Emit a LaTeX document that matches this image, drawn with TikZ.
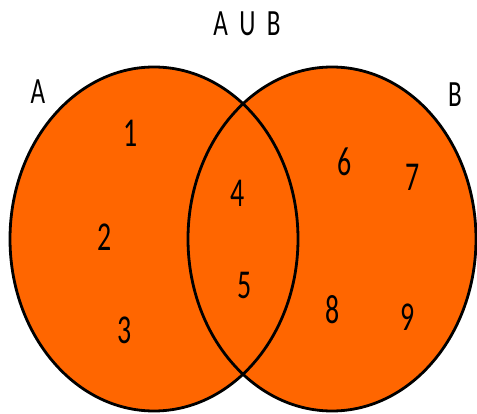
\documentclass[tikz,border=0pt]{standalone}
\usepackage{fontspec}
\setmainfont{Carlito}
\definecolor{setorange}{RGB}{255,102,0}
\newcommand{\narrow}[1]{\scalebox{0.68}[1]{#1}}

\begin{document}
\begin{tikzpicture}[x=1pt,y=-1pt,
  setfill/.style={fill=setorange},
  setline/.style={draw=black,line width=2.8pt},
  elem/.style={inner sep=0pt,font=\fontsize{41}{41}\selectfont},
  lbl/.style={inner sep=0pt,font=\fontsize{37}{37}\selectfont}]
\useasboundingbox (0,0) rectangle (477,414);

\fill[setfill] (154,239) ellipse (144 and 172);
\fill[setfill] (332,239) ellipse (144 and 172);
\draw[setline] (154,239) ellipse (144 and 172);
\draw[setline] (332,239) ellipse (144 and 172);

\node[lbl] (t) at (247,24) {\narrow{A\hspace{0.45em}U\hspace{0.45em}B}};
\node[lbl] (a) at (38,92) {\narrow{A}};
\node[lbl] (b) at (455,95) {\narrow{B}};

\node[elem] (1) at (131,133) {\narrow{1}};
\node[elem] (2) at (105,237) {\narrow{2}};
\node[elem] (3) at (125,330) {\narrow{3}};

\node[elem] (4) at (238,193) {\narrow{4}};
\node[elem] (5) at (245,285) {\narrow{5}};

\node[elem] (6) at (345,162) {\narrow{6}};
\node[elem] (7) at (413,177) {\narrow{7}};
\node[elem] (8) at (333,310) {\narrow{8}};
\node[elem] (9) at (408,317) {\narrow{9}};
\end{tikzpicture}
\end{document}
